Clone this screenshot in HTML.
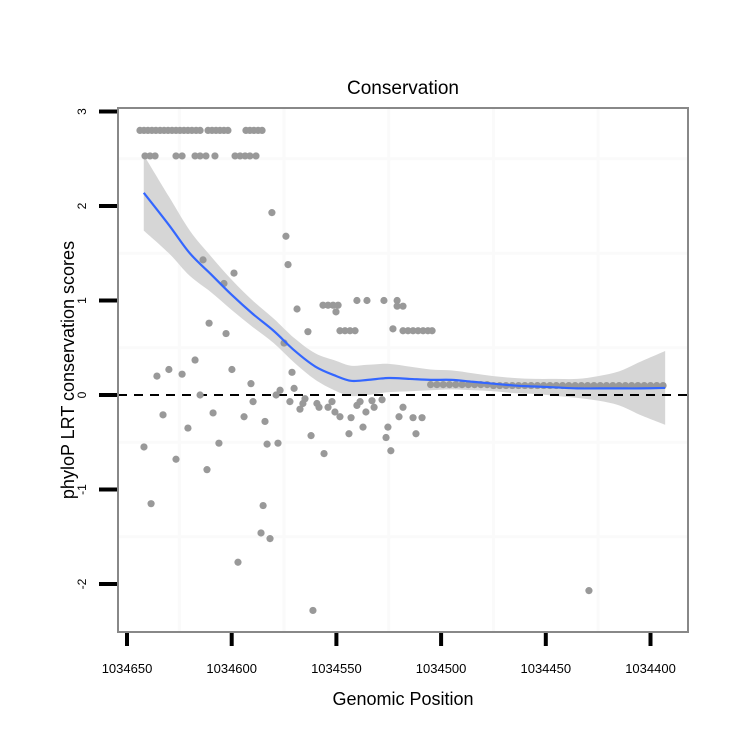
<!DOCTYPE html>
<html><head><meta charset="utf-8"><style>
body{margin:0;background:#fff;}
svg{display:block;font-family:"Liberation Sans",Arial,sans-serif;}
</style></head><body>
<svg id="chart" width="750" height="750" viewBox="0 0 750 750">
<rect width="750" height="750" fill="#fff"/>
<g id="grid"></g>
<g id="band"></g>
<g id="pts"></g>
<g id="smooth"></g>
<g id="axes"></g>
<text x="403" y="94" font-size="19" text-anchor="middle">Conservation</text>
<text x="403" y="705" font-size="18" text-anchor="middle">Genomic Position</text>
<text transform="translate(74,370) rotate(-90)" font-size="18" text-anchor="middle">phyloP LRT conservation scores</text>
</svg>
<script>
const xTicks = [1034650,1034600,1034550,1034500,1034450,1034400];
const yTicks = [3,2,1,0,-1,-2];
const ptX = [1034643.8,1034641.9,1034640,1034638.1,1034636.2,1034634.2,1034632.3,1034630.4,1034628.5,1034626.6,1034624.7,1034622.8,1034620.9,1034619,1034617,1034615.1,1034611.3,1034609.4,1034607.5,1034605.6,1034603.7,1034601.8,1034593.2,1034591.3,1034589.4,1034587.4,1034585.5,
1034641.4,1034639,1034636.6,1034626.6,1034623.7,1034617.5,1034615.1,1034612.3,1034608,1034598.4,1034596,1034593.6,1034591.3,1034588.4,
1034580.8,1034574.1,1034573.1,1034613.7,1034598.9,1034603.7,1034610.8,1034602.7,1034568.8,1034563.6,1034556.4,1034554,1034551.6,1034549.2,1034550.2,1034540.2,1034535.4,1034527.3,1034521,1034521,1034518.2,1034548.3,1034545.9,1034543.5,1034541.1,1034523,1034518.2,1034515.8,1034513.4,1034511,1034508.6,1034506.3,1034504.3,
1034575,1034617.5,1034630,1034635.7,1034623.7,1034599.9,1034590.8,1034571.2,1034570.2,1034576.9,1034615.1,
1034589.8,1034632.8,1034620.9,1034641.9,1034626.6,1034638.5,1034608.9,1034606.1,1034611.8,1034594.1,1034584.1,1034583.1,1034577.9,1034585,1034586,1034581.7,1034597,1034561.2,1034572.2,1034578.8,1034567.4,1034566,1034565,1034562.1,1034555.9,1034559.3,1034558.3,1034552.1,1034554,1034550.7,1034548.3,1034543,1034544,1034540.2,1034538.7,1034535.9,1034537.3,1034533,1034532,1034528.2,1034525.4,1034526.3,1034524,1034518.2,1034520.1,1034513.4,1034509.1,1034512,1034429.4,
1034505,1034502,1034499,1034496,1034493,1034490,1034487,1034484,1034481,1034478,1034475,1034472,1034469,1034466,1034463,1034460,1034457,1034454,1034451,1034448,1034445,1034442,1034439,1034436,1034433,1034430,1034427,1034424,1034421,1034418,1034415,1034412,1034409,1034406,1034403,1034400,1034397,1034394];
const ptY = [2.8,2.8,2.8,2.8,2.8,2.8,2.8,2.8,2.8,2.8,2.8,2.8,2.8,2.8,2.8,2.8,2.8,2.8,2.8,2.8,2.8,2.8,2.8,2.8,2.8,2.8,2.8,
2.53,2.53,2.53,2.53,2.53,2.53,2.53,2.53,2.53,2.53,2.53,2.53,2.53,2.53,
1.93,1.68,1.38,1.43,1.29,1.18,0.76,0.65,0.91,0.67,0.95,0.95,0.95,0.95,0.88,1.0,1.0,1.0,1.0,0.94,0.94,0.68,0.68,0.68,0.68,0.7,0.68,0.68,0.68,0.68,0.68,0.68,0.68,
0.55,0.37,0.27,0.2,0.22,0.27,0.12,0.24,0.07,0.05,0.0,
-0.07,-0.21,-0.35,-0.55,-0.68,-1.15,-0.19,-0.51,-0.79,-0.23,-0.28,-0.52,-0.51,-1.17,-1.46,-1.52,-1.77,-2.28,-0.07,0,-0.15,-0.09,-0.04,-0.43,-0.62,-0.09,-0.13,-0.07,-0.13,-0.18,-0.23,-0.24,-0.41,-0.11,-0.07,-0.18,-0.34,-0.06,-0.13,-0.05,-0.34,-0.45,-0.59,-0.13,-0.23,-0.24,-0.24,-0.41,-2.07,
0.11,0.11,0.11,0.11,0.11,0.11,0.11,0.11,0.11,0.11,0.1,0.1,0.1,0.1,0.1,0.1,0.1,0.1,0.1,0.1,0.1,0.1,0.1,0.1,0.1,0.1,0.1,0.1,0.1,0.1,0.1,0.1,0.1,0.1,0.1,0.1,0.1,0.1];
const smX = [1034642,1034630,1034620,1034610,1034600,1034590,1034580,1034570,1034560,1034550,1034543,1034535,1034525,1034515,1034505,1034495,1034485,1034475,1034465,1034455,1034445,1034435,1034425,1034415,1034405,1034393];
const smY = [2.14,1.8,1.5,1.28,1.06,0.86,0.68,0.47,0.3,0.2,0.15,0.16,0.18,0.17,0.16,0.16,0.14,0.12,0.1,0.09,0.08,0.07,0.07,0.07,0.07,0.075];
const smSE = [0.4,0.3,0.24,0.19,0.16,0.14,0.13,0.13,0.14,0.16,0.16,0.16,0.15,0.13,0.11,0.1,0.09,0.08,0.08,0.08,0.09,0.1,0.13,0.18,0.28,0.39];

const NS='http://www.w3.org/2000/svg';
const X = v => 127 + (1034650 - v) * 2.094;
const Y = v => 395 - v * 94.5;
const L=118, R=688, T=108, B=632;
function mk(tag, attrs, parent){const e=document.createElementNS(NS,tag);for(const k in attrs)e.setAttribute(k,attrs[k]);parent.appendChild(e);return e;}
function curve(p, move){
  let d=(move?'M':'L')+p[0][0]+','+p[0][1];
  for(let i=0;i<p.length-1;i++){
    const p0=p[Math.max(0,i-1)],p1=p[i],p2=p[i+1],p3=p[Math.min(p.length-1,i+2)];
    const c1x=p1[0]+(p2[0]-p0[0])/6,c1y=p1[1]+(p2[1]-p0[1])/6;
    const c2x=p2[0]-(p3[0]-p1[0])/6,c2y=p2[1]-(p3[1]-p1[1])/6;
    d+=' C'+c1x+','+c1y+' '+c2x+','+c2y+' '+p2[0]+','+p2[1];
  }
  return d;
}
const grid=document.getElementById('grid');
for(let i=0;i<xTicks.length-1;i++){
  const g=mk('line',{x1:X((xTicks[i]+xTicks[i+1])/2),x2:X((xTicks[i]+xTicks[i+1])/2),y1:T,y2:B,stroke:'#fafafa','stroke-width':3},grid);
  
  
}
for(let i=0;i<yTicks.length-1;i++){
  const g=mk('line',{x1:L,x2:R,y1:Y((yTicks[i]+yTicks[i+1])/2),y2:Y((yTicks[i]+yTicks[i+1])/2),stroke:'#fafafa','stroke-width':3},grid);
  
  
}
const up=smX.map((x,i)=>[X(x),Y(smY[i]+smSE[i])]);
const lo=smX.map((x,i)=>[X(x),Y(smY[i]-smSE[i])]).reverse();
const band=mk('path',{d:curve(up,true)+' '+curve(lo,false)+' Z',fill:'#d6d6d6'},document.getElementById('band'));


const z=mk('line',{x1:L,x2:R,y1:Y(0),y2:Y(0),stroke:'#000','stroke-width':2,'stroke-dasharray':'9,7'},document.getElementById('band'));


const pts=document.getElementById('pts');
for(let i=0;i<ptX.length;i++){
  const c=mk('circle',{cx:X(ptX[i]),cy:Y(ptY[i]),r:3.6,fill:'#999'},pts);
  
  
}
const sl=mk('path',{d:curve(smX.map((x,i)=>[X(x),Y(smY[i])]),true),fill:'none',stroke:'#3366ff','stroke-width':2.2},document.getElementById('smooth'));


const ax=document.getElementById('axes');
const fr=mk('rect',{x:L,y:T,width:R-L,height:B-T,fill:'none',stroke:'#888','stroke-width':2},ax);


xTicks.forEach(t=>{
  const tk=mk('line',{x1:X(t),x2:X(t),y1:633,y2:646,stroke:'#000','stroke-width':4},ax);
  
  
  const tx=mk('text',{x:X(t),y:673,'font-size':13,'text-anchor':'middle'},ax);
  tx.textContent=t;
  
  
});
yTicks.forEach(t=>{
  const tk=mk('line',{x1:99,x2:117,y1:Y(t),y2:Y(t),stroke:'#000','stroke-width':4},ax);
  
  
  const tx=mk('text',{transform:'translate(86,'+Y(t)+') rotate(-90)','font-size':12,'text-anchor':'middle'},ax);
  tx.textContent=t;
  
  
});
</script>
</body></html>
